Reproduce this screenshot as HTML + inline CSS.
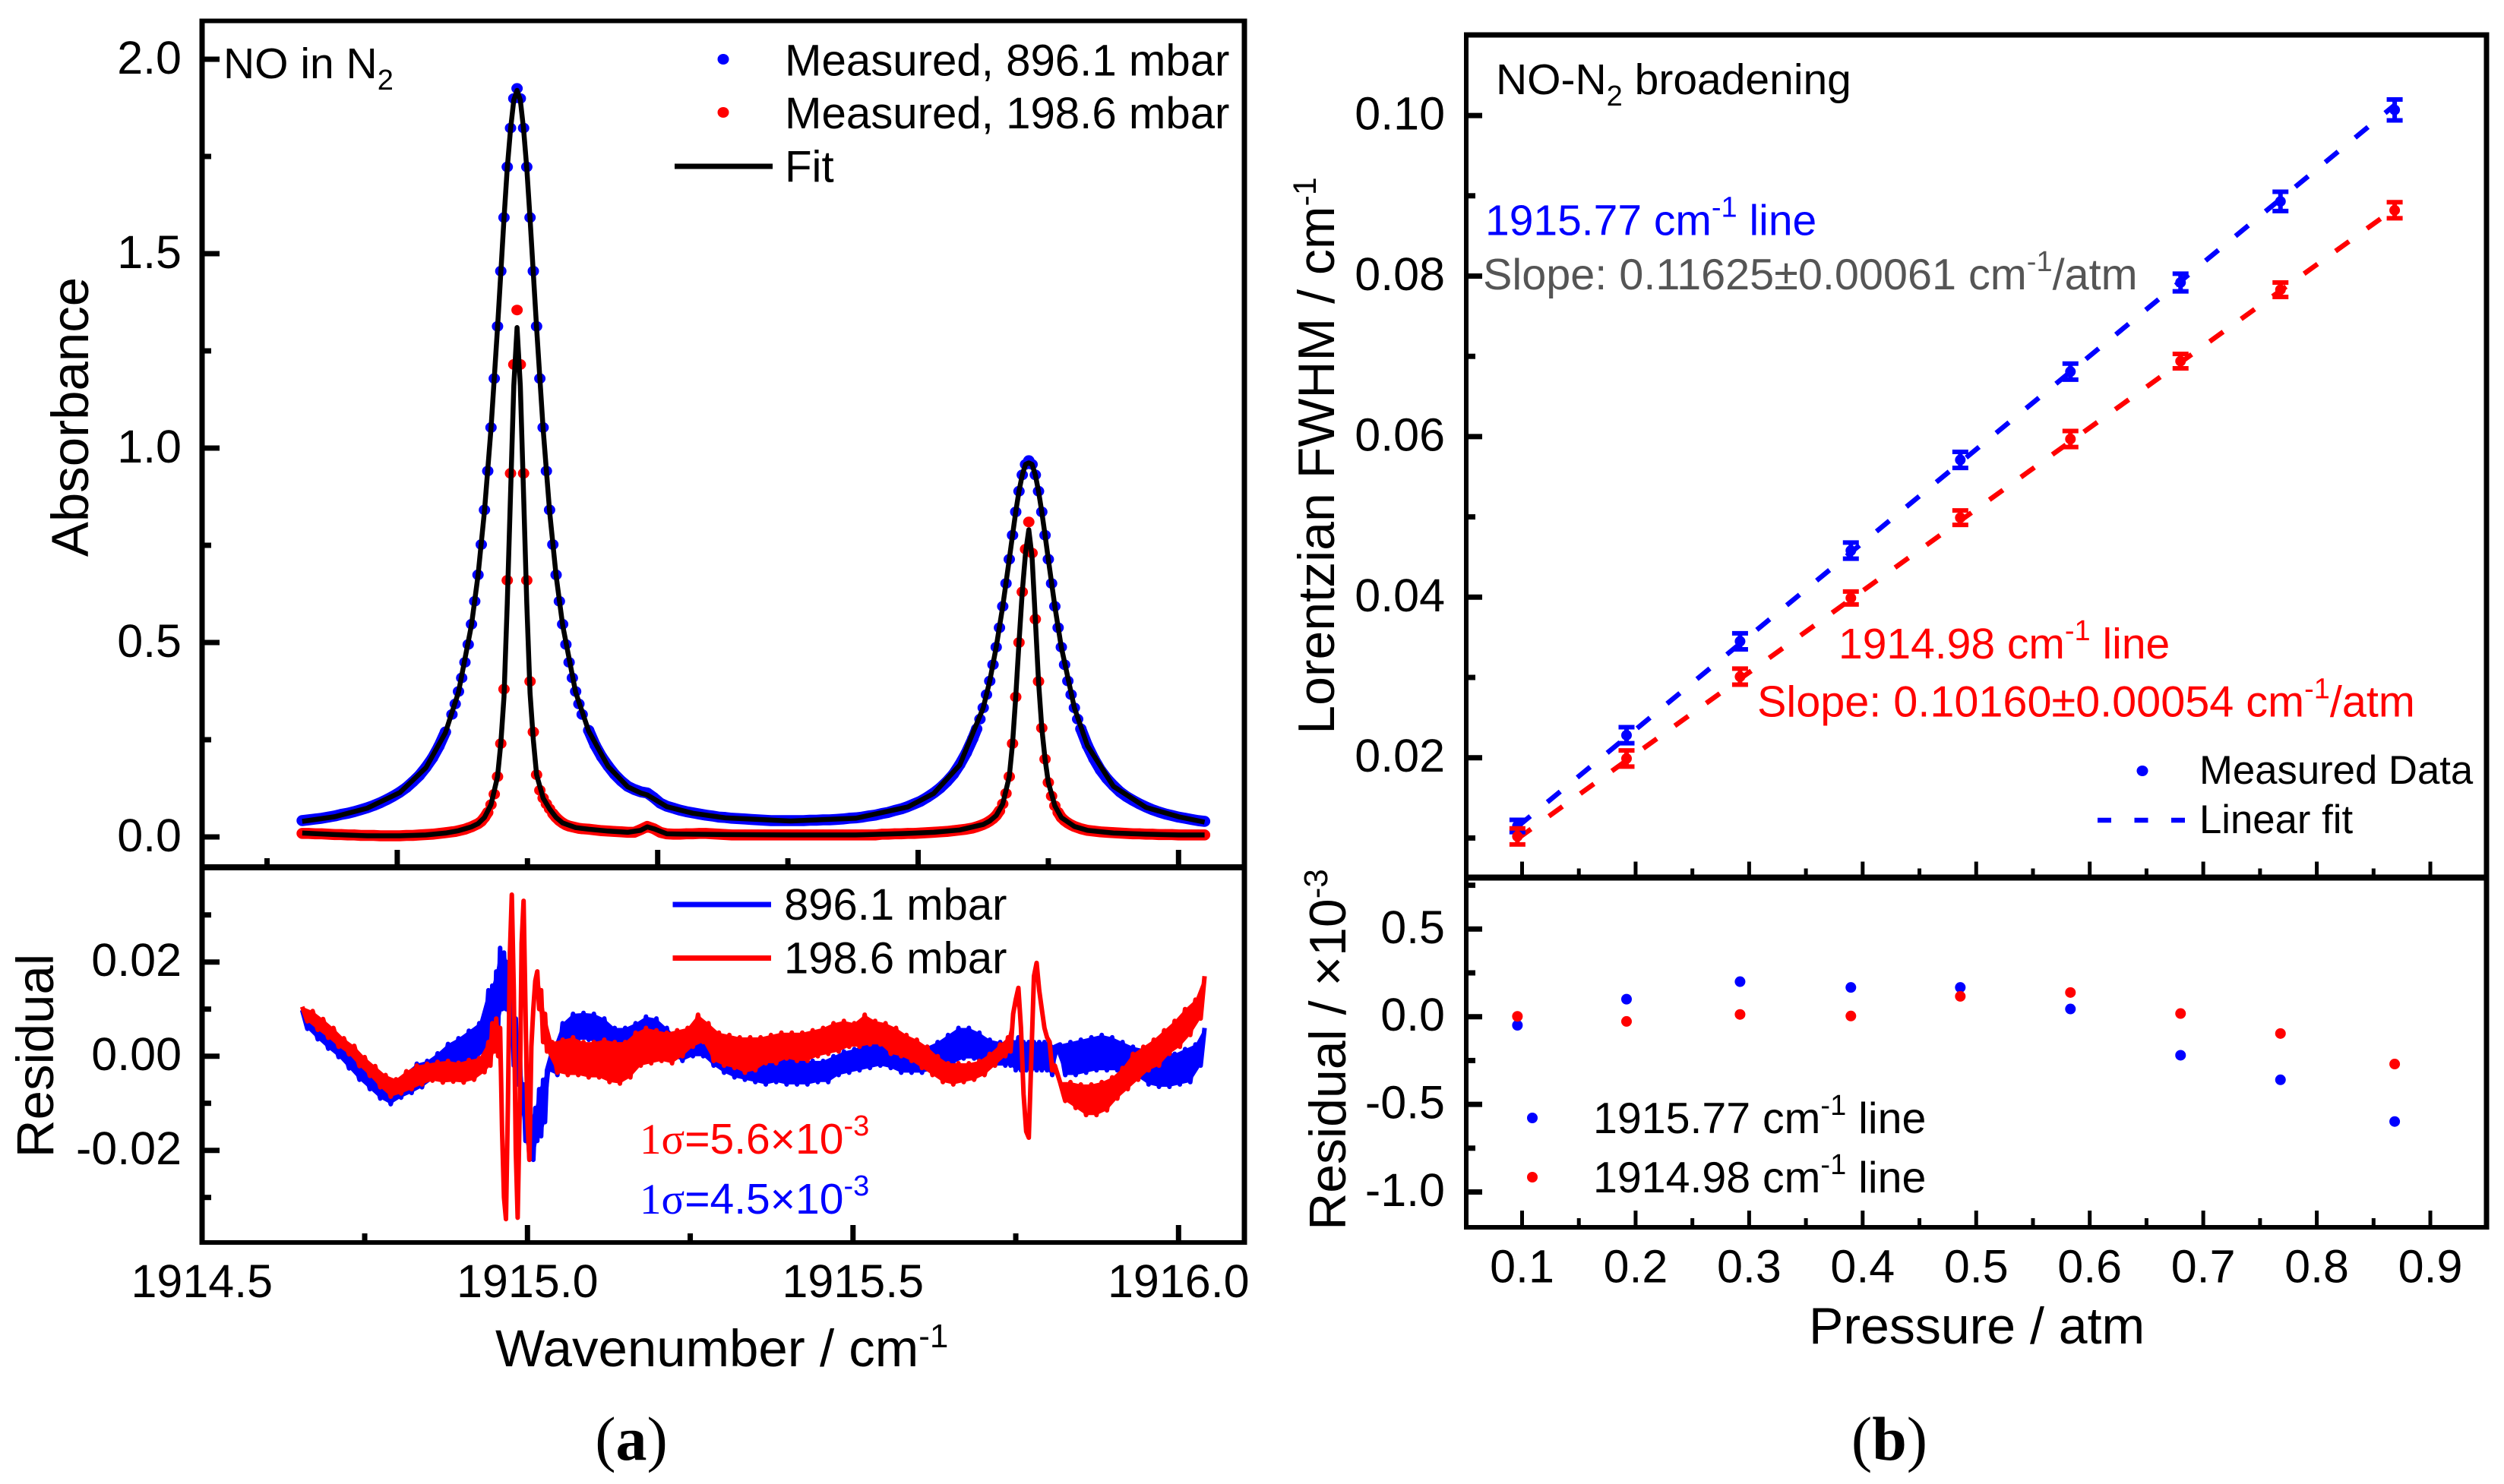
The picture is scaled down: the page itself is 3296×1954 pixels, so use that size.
<!DOCTYPE html>
<html lang="en">
<head>
<meta charset="utf-8">
<title>NO in N2 absorbance and broadening</title>
<style>
html,body{margin:0;padding:0;background:#fff;width:3296px;height:1954px;overflow:hidden}
svg{display:block}
text{font-family:"Liberation Sans",Arial,sans-serif;fill:#000}
.tick{font-size:61px}
.title{font-size:68px}
.titleA{font-size:69px}
.leg{font-size:58.2px}
.note{font-size:57px}
.slope{font-size:57.6px}
.leg2{font-size:52.7px}
.serif{font-family:"Liberation Serif","Times New Roman",serif}
</style>
</head>
<body>
<svg id="fig" xmlns="http://www.w3.org/2000/svg" width="3296" height="1954" viewBox="0 0 3296 1954">
  <rect x="0" y="0" width="3296" height="1954" fill="#fff"/>
  <g id="marksA"></g>
  <g id="marksB"></g>
  <g id="axes"></g>

  <!-- Frames -->
  <g fill="none" stroke="#000">
    <path d="M266 24.500V1639" stroke-width="7"/>
    <path d="M1638 24.500V1639" stroke-width="7"/>
    <path d="M262.500 27.500H1641.500" stroke-width="6"/>
    <path d="M262.500 1142H1641.500" stroke-width="8"/>
    <path d="M262.500 1636H1641.500" stroke-width="6"/>
  </g>
  <g fill="none" stroke="#000">
    <path d="M1930 42.500V1619" stroke-width="6"/>
    <path d="M3273 42.500V1619" stroke-width="7"/>
    <path d="M1927 46H3276.500" stroke-width="7"/>
    <path d="M1927 1155.500H3276.500" stroke-width="8"/>
    <path d="M1927 1616H3276.500" stroke-width="6"/>
  </g>

  <!-- Panel a labels -->
  <text class="titleA" transform="translate(116 549) rotate(-90)" text-anchor="middle">Absorbance</text>
  <text class="titleA" transform="translate(70 1390) rotate(-90)" text-anchor="middle">Residual</text>
  <text class="titleA" x="652" y="1799">Wavenumber / cm<tspan font-size="44" dy="-25">-1</tspan></text>
  <text font-size="57" x="294" y="103">NO in N<tspan font-size="38" dy="15">2</tspan></text>

  <g>
    <ellipse cx="952" cy="78" rx="7.500" ry="7" fill="#00f"/>
    <ellipse cx="952" cy="148" rx="7.500" ry="7" fill="#f00"/>
    <path d="M888 219H1017" stroke="#000" stroke-width="7"/>
    <text class="leg" x="1033" y="99.500">Measured, 896.1 mbar</text>
    <text class="leg" x="1033" y="169">Measured, 198.6 mbar</text>
    <text class="leg" x="1033" y="239.500">Fit</text>
  </g>
  <g>
    <path d="M885.500 1191H1015" stroke="#00f" stroke-width="7"/>
    <path d="M885.500 1261.500H1015" stroke="#f00" stroke-width="7"/>
    <text font-size="58" x="1032" y="1211">896.1 mbar</text>
    <text font-size="58" x="1032" y="1281.500">198.6 mbar</text>
  </g>
  <text font-size="57" x="842" y="1519" style="fill:#f00"><tspan class="serif">1σ</tspan>=5.6×10<tspan font-size="38" dy="-24">-3</tspan></text>
  <text font-size="57" x="842" y="1598" style="fill:#00f"><tspan class="serif">1σ</tspan>=4.5×10<tspan font-size="38" dy="-24">-3</tspan></text>

  <!-- Panel b labels -->
  <text class="title" transform="translate(1756 600) rotate(-90)" text-anchor="middle">Lorentzian FWHM / cm<tspan font-size="43" dy="-24">-1</tspan></text>
  <text class="title" transform="translate(1771 1382) rotate(-90)" text-anchor="middle">Residual / ×10<tspan font-size="44" dy="-24">-3</tspan></text>
  <text class="title" x="2381" y="1769">Pressure / atm</text>
  <text font-size="57" x="1969" y="124">NO-N<tspan font-size="38" dy="15">2</tspan><tspan dy="-15"> broadening</tspan></text>
  <text class="note" x="1955" y="309.500" style="fill:#00f">1915.77 cm<tspan font-size="38" dy="-24">-1</tspan><tspan dy="24"> line</tspan></text>
  <text class="slope" x="1952" y="381" style="fill:#555">Slope: 0.11625±0.00061 cm<tspan font-size="38" dy="-24">-1</tspan><tspan dy="24">/atm</tspan></text>
  <text class="note" x="2420" y="867" style="fill:#f00">1914.98 cm<tspan font-size="38" dy="-24">-1</tspan><tspan dy="24"> line</tspan></text>
  <text class="slope" x="2313" y="943.500" style="fill:#f00">Slope: 0.10160±0.00054 cm<tspan font-size="38" dy="-24">-1</tspan><tspan dy="24">/atm</tspan></text>

  <g>
    <ellipse cx="2820" cy="1015" rx="7.500" ry="7" fill="#00f"/>
    <path d="M2761 1080H2876" stroke="#00f" stroke-width="6.500" stroke-dasharray="18 30.500"/>
    <text class="leg2" x="2895" y="1032">Measured Data</text>
    <text class="leg2" x="2895" y="1097">Linear fit</text>
  </g>
  <g>
    <ellipse cx="2017" cy="1472" rx="7" ry="7" fill="#00f"/>
    <ellipse cx="2017" cy="1550" rx="7" ry="7" fill="#f00"/>
    <text font-size="57.300" x="2097" y="1492">1915.77 cm<tspan font-size="38" dy="-24">-1</tspan><tspan dy="24"> line</tspan></text>
    <text font-size="57.300" x="2097" y="1570">1914.98 cm<tspan font-size="38" dy="-24">-1</tspan><tspan dy="24"> line</tspan></text>
  </g>

  <text class="serif" font-size="82" x="831" y="1922" text-anchor="middle">(<tspan font-weight="bold">a</tspan>)</text>
  <text class="serif" font-size="82" x="2487" y="1922" text-anchor="middle">(<tspan font-weight="bold">b</tspan>)</text>
</svg>

<script>
// ---------- Panel (a): absorbance spectra (wavenumber offset from 1914 cm-1) ----------
const wnBase = 1914;
const measuredWn = [
0.654,0.664,0.674,0.684,0.694,0.704,0.714,0.724,0.734,0.744,0.754,0.764,0.774,0.784,0.794,0.804,0.814,0.824,0.834,0.844,0.854,0.864,0.874,
0.884,0.889,0.894,0.899,0.904,0.909,0.914,0.919,0.924,0.929,0.934,0.939,0.944,0.949,0.954,0.959,0.964,0.969,0.974,0.979,0.984,0.989,0.994,0.999,1.004,1.009,1.014,1.019,1.024,1.029,1.034,1.039,1.044,1.049,1.054,1.059,1.064,1.069,1.074,1.079,1.084,
1.094,1.104,1.114,1.124,1.134,1.144,1.154,1.164,1.174,1.184,1.194,1.204,1.214,1.224,1.234,1.244,1.254,1.264,1.274,1.284,1.294,1.304,1.314,1.324,1.334,1.344,1.354,1.364,1.374,1.384,1.394,1.404,1.414,1.424,1.434,1.444,1.454,1.464,1.474,1.484,1.494,1.504,1.514,1.524,1.534,1.544,1.554,1.564,1.574,1.584,1.594,1.604,1.614,1.624,1.634,1.644,1.654,1.664,1.674,1.684,
1.690,1.695,1.700,1.705,1.710,1.715,1.720,1.725,1.730,1.735,1.740,1.745,1.750,1.755,1.760,1.765,1.770,1.775,1.780,1.785,1.790,1.795,1.800,1.805,1.810,1.815,1.820,1.825,1.830,1.835,1.840,1.845,1.850,
1.860,1.870,1.880,1.890,1.900,1.910,1.920,1.930,1.940,1.950,1.960,1.970,1.980,1.990,2.000,2.010,2.020,2.030,2.040];
const measuredBlue = [
.042,.044,.046,.048,.051,.054,.058,.061,.065,.070,.075,.081,.088,.096,.105,.115,.127,.142,.158,.179,.203,.233,.270,
.315,.342,.374,.409,.449,.495,.547,.606,.674,.752,.841,.941,1.053,1.179,1.313,1.455,1.593,1.723,1.823,1.899,1.925,1.899,1.823,1.723,1.593,1.455,1.313,1.179,1.053,.941,.841,.752,.674,.606,.547,.495,.449,.409,.374,.342,.315,
.274,.236,.206,.182,.161,.144,.130,.122,.116,.113,.101,.087,.079,.074,.069,.065,.062,.059,.056,.054,.051,.050,.048,.047,.046,.045,.044,.043,.042,.042,.042,.042,.042,.042,.043,.043,.044,.044,.045,.046,.048,.049,.051,.054,.056,.060,.063,.068,.072,.078,.085,.092,.102,.113,.126,.142,.161,.186,.216,.253,
.278,.303,.332,.366,.401,.443,.488,.538,.593,.652,.714,.776,.836,.889,.931,.958,.968,.958,.931,.889,.836,.776,.714,.652,.593,.538,.488,.443,.401,.366,.332,.303,.278,
.235,.201,.172,.150,.132,.116,.104,.094,.085,.077,.070,.064,.059,.055,.051,.048,.045,.042,.040];
const measuredRed = [
.009,.009,.008,.008,.007,.006,.006,.005,.005,.004,.004,.004,.003,.003,.003,.003,.004,.004,.005,.006,.007,.009,.011,
.013,.014,.016,.018,.020,.023,.026,.030,.034,.040,.050,.063,.083,.110,.155,.24,.38,.66,.935,1.215,1.355,1.215,.935,.66,.40,.27,.16,.12,.10,.085,.072,.060,.05,.042,.036,.031,.028,.026,.024,.022,.021,
.02,.018,.016,.015,.014,.013,.012,.012,.019,.027,.021,.012,.008,.007,.007,.008,.008,.009,.009,.008,.007,.006,.005,.005,.005,.005,.005,.005,.005,.005,.005,.005,.005,.005,.005,.005,.005,.005,.005,.005,.005,.005,.005,.005,.005,.007,.007,.008,.008,.009,.009,.010,.011,.012,.013,.014,.016,.018,.020,.023,
.026,.029,.032,.036,.041,.047,.055,.067,.085,.112,.155,.24,.36,.50,.63,.74,.81,.73,.56,.40,.28,.20,.14,.105,.08,.063,.05,.042,.036,.031,.027,.024,.021,
.017,.015,.013,.012,.011,.010,.009,.008,.008,.007,.007,.006,.006,.006,.005,.005,.005,.005,.005];
const fitWn = [
.654,.704,.754,.804,.844,.874,.894,.914,.924,.934,
.944,.954,.959,.964,.969,.974,.979,.984,.989,.994,
.999,1.004,1.009,1.014,1.024,1.034,1.044,1.054,1.074,1.094,
1.124,1.154,1.174,1.184,1.194,1.214,1.254,1.304,1.404,1.504,
1.584,1.624,1.664,1.700,1.710,1.720,1.730,1.740,1.745,1.750,
1.755,1.760,1.765,1.770,1.775,1.780,1.785,1.790,1.795,1.800,
1.810,1.820,1.840,1.860,1.900,1.950,2.000,2.040];
const fitBlue = [
.040,.052,.074,.114,.178,.268,.372,.545,.672,.838,
1.05,1.31,1.45,1.59,1.72,1.82,1.895,1.92,1.895,1.82,
1.72,1.59,1.45,1.31,1.05,.838,.672,.545,.372,.272,
.181,.129,.113,.108,.098,.078,.061,.049,.041,.048,
.077,.112,.185,.332,.401,.488,.593,.714,.776,.836,
.889,.931,.958,.962,.958,.931,.889,.836,.776,.714,
.593,.488,.332,.235,.130,.076,.052,.038];
const fitRed = [
.010,.006,.003,.003,.005,.010,.016,.026,.034,.050,
.083,.155,.24,.36,.60,.88,1.16,1.31,1.16,.88,
.60,.37,.25,.16,.10,.072,.05,.036,.024,.02,
.015,.012,.017,.026,.021,.008,.007,.006,.005,.005,
.009,.012,.018,.032,.041,.055,.085,.155,.24,.36,
.50,.63,.73,.79,.72,.56,.40,.28,.20,.14,
.08,.05,.027,.017,.010,.007,.005,.005];

// Residuals, in units of 1e-3 absorbance
const residualWn = [
.654,.662,.670,.678,.686,.694,.702,.710,.718,.726,.734,.742,.750,.758,.766,.774,.782,.790,.798,.806,.814,.822,.830,.838,.846,.854,.862,.870,.878,.886,.894,.902,.910,.918,.926,.934,
.940,.943,.946,.949,.952,.955,.958,.961,.964,.967,.970,.973,.976,.979,.982,.985,.988,.991,.994,.997,1.000,1.003,1.006,1.009,1.012,1.015,1.018,1.021,1.024,1.027,1.030,
1.038,1.046,1.054,1.062,1.070,1.078,1.086,1.094,1.102,1.110,1.118,
1.126,1.134,1.142,1.150,1.158,1.166,1.174,1.182,1.190,1.198,1.206,
1.214,1.222,1.230,1.238,1.246,1.254,1.262,1.270,1.278,1.286,1.294,
1.302,1.310,1.318,1.326,1.334,1.342,1.350,1.358,1.366,1.374,1.382,
1.390,1.398,1.406,1.414,1.422,1.430,1.438,1.446,1.454,1.462,1.470,
1.478,1.486,1.494,1.502,1.510,1.518,1.526,1.534,1.542,1.550,1.558,
1.566,1.574,1.582,1.590,1.598,1.606,1.614,1.622,1.630,1.638,1.646,
1.654,1.662,1.670,1.678,1.686,1.694,1.702,1.710,1.718,1.726,1.734,
1.738,1.742,1.746,1.750,1.754,1.758,1.762,1.766,1.770,1.774,1.778,1.782,1.786,1.790,1.794,1.798,1.802,1.806,1.810,
1.818,1.826,1.834,1.842,1.850,1.858,1.866,1.874,1.882,1.890,1.898,1.906,1.914,1.922,1.930,1.938,1.946,1.954,1.962,1.970,1.978,1.986,1.994,2.002,2.010,2.018,2.026,2.034,2.040];
const residualBlue = [
9.8,5.8,8.0,3.6,5.9,1.6,3.8,-.2,1.6,-2.6,-.6,-5.0,-2.6,-7.0,-4.4,-9.0,-6.0,-10.2,-6.0,-8.8,-3.4,-7.8,-1.6,-6.6,-1.0,-5.0,.6,-4.0,2.6,-3.4,3.8,-2.0,5.4,-1.0,7.0,1.0,
14,1,15,2,18,6,23,10,22,10,20,6,12,-2,8,-6,2,-12,-6,-18,-12,-22,-13,-22,-11,-18,-7,-17,-5,-14,-3,
1,-4,7,3,9,3.5,9.2,3.5,9,2.5,8,
1.5,6,.5,6,.5,7,1,8.4,1.2,8,.5,
6,0,4,-1,4,0,5.5,0,3,-2,2,
-3.5,1,-4.5,.5,-5,0,-5.5,-.5,-6,-.5,-5.5,
-.5,-6,-.5,-6,-1,-6,-1,-5.5,-1,-5.5,0,
-4,1,-3.5,1.5,-3,2.5,-2.5,3,-2,2.5,-2.5,
1.5,-3.5,1,-3.5,1,-3.5,2,-3,3,-2.5,4.5,
-1.5,6,-.5,6,-.5,5,-1.5,3.5,-2,3,-2,
3,-2,3,-3,4,-3,3,-3,3,-3,3,-3,3,-3,3,-3,3,-4,2,
2.5,-4,3,-4,3.5,-3.5,4,-3,4.5,-3,4,-3,3,-3.5,2,-4.5,1.5,-6,1,-6.5,1,-6.5,.5,-6,1.5,-5.5,2.5,-2,6];
const residualRed = [
10.5,7.4,9.6,5.6,7.9,3.9,6.0,2.0,3.8,.4,2.2,-2.1,-.2,-4.2,-2.1,-6.6,-4.0,-8.6,-4.9,-7.9,-3.2,-7.0,-2.0,-6.0,-1.6,-5.2,-1.2,-5.6,-1.0,-5.4,-1.4,-5.6,-.8,-5.0,-.4,-3.4,
3,-2,7,1,8,0,6,-16,-30,-34.6,-10,22,34.3,14,-20,-34.3,-12,24,33,10,-14,-22,2,10,16,18,10,14,3,9,1,
3,-3.5,3.5,-4,4,-4,3,-4.5,3,-4.5,3.5,
-5.5,3,-5.8,3,-4.5,5,-2,6,-1.5,5.5,-1,
5,-1.5,5.5,0,6,2,8.8,3,7,-1,5,
-2,4.5,-2.5,4,-3.5,4,-3,4,-1.5,4.5,-1.5,
5,-.5,5,-1,5,-1,5.5,0,6,.5,7,
1,7.5,2,7,2,8.8,2.5,7.5,2.5,7,.5,
6,0,4.5,-1,3.5,-2.5,2,-4,0,-5.5,-1.5,
-6,-1.5,-5.5,-1.5,-5,-1,-4,.5,-2,2.5,0,
4,1,9,12,14.5,6,-8,-16,-17.3,0,17,19.8,14,10,6,4,3,-3,-2,
-5.5,-9.5,-5.5,-11,-6,-12.5,-6,-12.5,-5.5,-11.5,-4.5,-9,-2.5,-7,.5,-5,2,-3,3.5,-2,5.5,.5,7.5,2,10,4.5,12,8,17];

// Axis ticks, panel (a)
const absMajorTicks = [0,0.5,1,1.5,2];
const absMajorLabels = ['0.0','0.5','1.0','1.5','2.0'];
const absMinorTicks = [0.25,0.75,1.25,1.75];
const absXMajorTicks = [1914.8,1915.2,1915.6,1916.0];
const absXMinorTicks = [1914.6,1915.0,1915.4,1915.8];
const resMajorTicks = [0.02,0,-0.02];
const resMajorLabels = ['0.02','0.00','-0.02'];
const resMinorTicks = [0.03,0.01,-0.01,-0.03];
const wnMajorTicks = [1914.5,1915,1915.5,1916];
const wnMajorLabels = ['1914.5','1915.0','1915.5','1916.0'];
const wnMinorTicks = [1914.75,1915.25,1915.75];

// ---------- Panel (b): pressure broadening ----------
const pressure = [0.0959,0.192,0.292,0.3896,0.486,0.583,0.680,0.768,0.8686];
const fwhmBlue = [0.0115,0.0228,0.0345,0.0458,0.0571,0.0681,0.0792,0.0893,0.1007];
const fwhmRed = [0.0102,0.0199,0.0301,0.0399,0.0499,0.0597,0.0694,0.0783,0.0882];
const errBlue = [0.00076,0.0010,0.0010,0.0010,0.0010,0.0010,0.0011,0.0012,0.0013];
const errRed = [0.0010,0.0010,0.0010,0.0008,0.0009,0.0010,0.0009,0.0009,0.0010];
const fitPressure = [0.0959,0.8686];
const fitLineBlue = [0.0114,0.1013];
const fitLineRed = [0.0099,0.0884];
const fwhmResidualBlue = [-0.049,0.10,0.20,0.167,0.167,0.044,-0.22,-0.36,-0.598];
const fwhmResidualRed = [0.002,-0.027,0.013,0.004,0.116,0.138,0.018,-0.096,-0.27];

const fwhmMajorTicks = [0.02,0.04,0.06,0.08,0.10];
const fwhmMajorLabels = ['0.02','0.04','0.06','0.08','0.10'];
const fwhmMinorTicks = [0.01,0.03,0.05,0.07,0.09];
const rbMajorTicks = [0.5,0,-0.5,-1];
const rbMajorLabels = ['0.5','0.0','-0.5','-1.0'];
const rbMinorTicks = [0.75,0.25,-0.25,-0.75];
const pMajorTicks = [0.1,0.2,0.3,0.4,0.5,0.6,0.7,0.8,0.9];
const pMajorLabels = ['0.1','0.2','0.3','0.4','0.5','0.6','0.7','0.8','0.9'];
const pMinorTicks = [0.15,0.25,0.35,0.45,0.55,0.65,0.75,0.85];

// ---------- Axis functions ----------
function xWn(w){return 694.3+(w-1915)*857;}
function yAbs(a){return 1102-a*512;}
function yRes(v){return 1390.7-v*6200;}
function xP(p){return 2003.5+(p-0.1)*1494.4;}
function yFwhm(f){return 997.7-(f-0.02)*10570;}
function yRb(r){return 1338.7-r*230.8;}

const NS='http://www.w3.org/2000/svg';
function make(tag,parent,attrs){
  const e=document.createElementNS(NS,tag);
  for(const k in attrs){e.setAttribute(k,attrs[k]);}
  parent.appendChild(e);
  return e;
}
function pointsOf(xs,ys,fx,fy){
  return xs.map(function(x,i){return fx(x).toFixed(1)+','+fy(ys[i]).toFixed(1);}).join(' ');
}
const marksA=document.getElementById('marksA');
const marksB=document.getElementById('marksB');
const axes=document.getElementById('axes');

// Panel (a) spectra: overlapping measured points merge into a solid band on the wings
function wnAbs(w){return xWn(wnBase+w);}
function wingPath(xs,ys,limit){
  let d='', open=false;
  xs.forEach(function(x,i){
    if(ys[i]<limit){
      d+=(open?'L':'M')+wnAbs(x).toFixed(1)+' '+yAbs(ys[i]).toFixed(1);
      open=true;
    }else{open=false;}
  });
  return d;
}
const wingBlue=make('path',marksA,{d:wingPath(measuredWn,measuredBlue,0.3),fill:'none',stroke:'#00f','stroke-width':14.5,'stroke-linejoin':'round','stroke-linecap':'round'});


measuredWn.forEach(function(w,i){
  const d=make('ellipse',marksA,{cx:wnAbs(w).toFixed(1),cy:yAbs(measuredBlue[i]).toFixed(1),rx:7.5,ry:7,fill:'#00f'});
  
  
});
const wingRed=make('path',marksA,{d:wingPath(measuredWn,measuredRed,0.07),fill:'none',stroke:'#f00','stroke-width':14.5,'stroke-linejoin':'round','stroke-linecap':'round'});


measuredWn.forEach(function(w,i){
  const d=make('ellipse',marksA,{cx:wnAbs(w).toFixed(1),cy:yAbs(measuredRed[i]).toFixed(1),rx:7.5,ry:7,fill:'#f00'});
  
  
});
// Panel (a) fits
const fit896=make('polyline',marksA,{points:pointsOf(fitWn,fitBlue,wnAbs,yAbs),fill:'none',stroke:'#000','stroke-width':6.5,'stroke-linejoin':'round'});


const fit198=make('polyline',marksA,{points:pointsOf(fitWn,fitRed,wnAbs,yAbs),fill:'none',stroke:'#000','stroke-width':6.5,'stroke-linejoin':'round'});


// Residuals: noisy trace drawn as a polyline with the gaps between swings filled
function yResMilli(v){return yRes(v/1000);}
function noiseFill(xs,ys){
  let d='';
  for(let i=0;i+2<xs.length;i++){
    const ax=wnAbs(xs[i]),ay=yResMilli(ys[i]);
    let bx=wnAbs(xs[i+1]),by=yResMilli(ys[i+1]);
    let cx=wnAbs(xs[i+2]),cy=yResMilli(ys[i+2]);
    if((bx-ax)*(cy-ay)-(by-ay)*(cx-ax)<0){
      const tx=bx,ty=by;bx=cx;by=cy;cx=tx;cy=ty;
    }
    d+='M'+ax.toFixed(1)+' '+ay.toFixed(1)+'L'+bx.toFixed(1)+' '+by.toFixed(1)+'L'+cx.toFixed(1)+' '+cy.toFixed(1)+'Z';
  }
  return d;
}
const resFill896=make('path',marksA,{d:noiseFill(residualWn,residualBlue),fill:'#00f'});


const res896=make('polyline',marksA,{points:pointsOf(residualWn,residualBlue,wnAbs,yResMilli),fill:'none',stroke:'#00f','stroke-width':6,'stroke-linejoin':'round'});


const resFill198=make('path',marksA,{d:noiseFill(residualWn,residualRed),fill:'#f00'});


const res198=make('polyline',marksA,{points:pointsOf(residualWn,residualRed,wnAbs,yResMilli),fill:'none',stroke:'#f00','stroke-width':6,'stroke-linejoin':'round'});



// Panel (b) fit lines
const lineB=make('polyline',marksB,{points:pointsOf(fitPressure,fitLineBlue,xP,yFwhm),fill:'none',stroke:'#00f','stroke-width':6.5,'stroke-dasharray':'22 29'});


const lineR=make('polyline',marksB,{points:pointsOf(fitPressure,fitLineRed,xP,yFwhm),fill:'none',stroke:'#f00','stroke-width':6.5,'stroke-dasharray':'22 29'});



// Panel (b) points with error bars
function drawErrorPoints(vals,errs,color){
  pressure.forEach(function(p,i){
    const x=xP(p), y=yFwhm(vals[i]);
    const top=yFwhm(vals[i]+errs[i]), bot=yFwhm(vals[i]-errs[i]);
    const path='M'+x+' '+top+'V'+bot+'M'+(x-10.5)+' '+top+'H'+(x+10.5)+'M'+(x-10.5)+' '+bot+'H'+(x+10.5);
    const eb=make('path',marksB,{d:path,fill:'none',stroke:color,'stroke-width':6});
    
    
    const pt=make('circle',marksB,{cx:x,cy:y,r:7,fill:color});
    
    
  });
}
drawErrorPoints(fwhmBlue,errBlue,'#00f');
drawErrorPoints(fwhmRed,errRed,'#f00');

// Panel (b) residual points
pressure.forEach(function(p,i){
  const pt=make('circle',marksB,{cx:xP(p),cy:yRb(fwhmResidualBlue[i]),r:7,fill:'#00f'});
  
  
});
pressure.forEach(function(p,i){
  const pt=make('circle',marksB,{cx:xP(p),cy:yRb(fwhmResidualRed[i]),r:7,fill:'#f00'});
  
  
});

// Ticks
function yTicks(vals,fy,x0,len,w){
  vals.forEach(function(v){
    const t=make('path',axes,{d:'M'+x0+' '+fy(v)+'H'+(x0+len),stroke:'#000','stroke-width':w});
    
    
  });
}
function xTicks(vals,fx,y0,len,w){
  vals.forEach(function(v){
    const t=make('path',axes,{d:'M'+fx(v)+' '+y0+'V'+(y0-len),stroke:'#000','stroke-width':w});
    
    
  });
}
function yLabels(vals,labels,fy,x,dy){
  vals.forEach(function(v,i){
    const t=make('text',axes,{x:x,y:fy(v)+dy,'text-anchor':'end','font-size':61});
    
    
    t.textContent=labels[i];
  });
}
function xLabels(vals,labels,fx,y){
  vals.forEach(function(v,i){
    const t=make('text',axes,{x:fx(v),y:y,'text-anchor':'middle','font-size':61});
    
    
    t.textContent=labels[i];
  });
}
// Panel (a)
yTicks(absMajorTicks,yAbs,266,23,7);
yTicks(absMinorTicks,yAbs,266,12,7);
yLabels(absMajorTicks,absMajorLabels,yAbs,239,19);
xTicks(absXMajorTicks,xWn,1142,23,7);
xTicks(absXMinorTicks,xWn,1142,12,7);
yTicks(resMajorTicks,yRes,266,23,7);
yTicks(resMinorTicks,yRes,266,12,7);
yLabels(resMajorTicks,resMajorLabels,yRes,239,18.5);
xTicks(wnMajorTicks.slice(1),xWn,1636,23,7);
xTicks(wnMinorTicks,xWn,1636,12,7);
xLabels(wnMajorTicks,wnMajorLabels,xWn,1708);
// Panel (b)
yTicks(fwhmMajorTicks,yFwhm,1930,21,7);
yTicks(fwhmMinorTicks,yFwhm,1930,12,7);
yLabels(fwhmMajorTicks,fwhmMajorLabels,yFwhm,1902,18.5);
xTicks(pMajorTicks,xP,1155.5,21,5);
xTicks(pMinorTicks,xP,1155.5,12,5);
yTicks(rbMajorTicks,yRb,1930,21,7);
yTicks(rbMinorTicks,yRb,1930,12,7);
yLabels(rbMajorTicks,rbMajorLabels,yRb,1902,18.5);
xTicks(pMajorTicks,xP,1616,22,5);
xTicks(pMinorTicks,xP,1616,12,5);
xLabels(pMajorTicks,pMajorLabels,xP,1688.5);
</script>
</body>
</html>
